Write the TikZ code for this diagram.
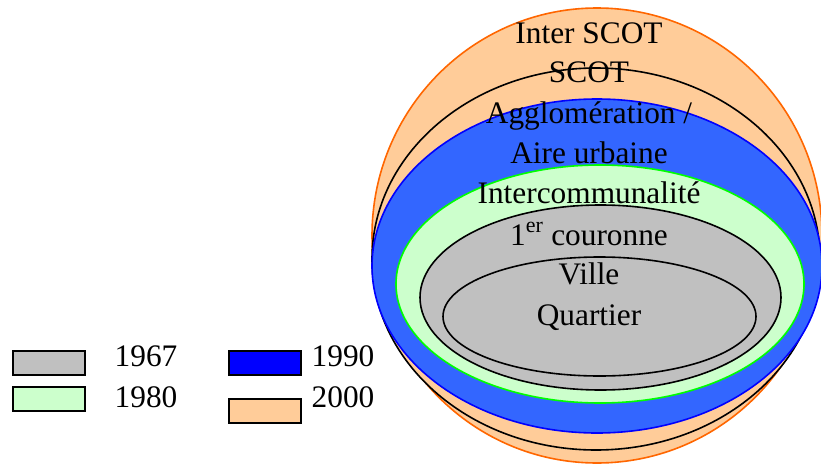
\documentclass[tikz,border=0pt]{standalone}
\usepackage{fontspec}
\setmainfont{Liberation Serif}
\definecolor{peach}{HTML}{FFCC99}
\definecolor{orangeline}{HTML}{FF6600}
\definecolor{bluefill}{HTML}{3366FF}
\definecolor{blueline}{HTML}{0000FF}
\definecolor{greenfill}{HTML}{CCFFCC}
\definecolor{greenline}{HTML}{00FF00}
\definecolor{grayfill}{HTML}{C0C0C0}
\tikzset{
  lbl/.style={anchor=base, inner sep=0pt, font=\fontsize{23.5}{28}\selectfont},
  legbox/.style={draw=black, line width=1.5pt, minimum width=72*0.75pt, minimum height=24*0.75pt, inner sep=0pt, anchor=north west},
  ring/.style={line width=1.2pt}
}
\begin{document}
\begin{tikzpicture}[x=0.75pt, y=-0.75pt]
\useasboundingbox (0,0) rectangle (821,464);
% ellipses
\draw[ring, fill=peach, draw=orangeline] (597,235.5) ellipse [x radius=225*0.75pt, y radius=227.5*0.75pt];
\draw[ring, fill=peach, draw=black] (596,259) ellipse [x radius=224*0.75pt, y radius=191*0.75pt];
\draw[ring, fill=bluefill, draw=blueline] (597,266) ellipse [x radius=225*0.75pt, y radius=167*0.75pt];
\draw[ring, fill=greenfill, draw=greenline] (600,284) ellipse [x radius=204*0.75pt, y radius=119*0.75pt];
\draw[ring, fill=grayfill, draw=black] (600.5,297.5) ellipse [x radius=180.5*0.75pt, y radius=92.5*0.75pt];
\draw[ring, fill=grayfill, draw=black] (599.5,316.5) ellipse [x radius=156.5*0.75pt, y radius=59.5*0.75pt];
% labels
\node[lbl] (t1) at (589,43) {Inter SCOT};
\node[lbl] (t2) at (589,82) {SCOT};
\node[lbl] (t3) at (589,123) {Agglomération /};
\node[lbl] (t4) at (589,163) {Aire urbaine};
\node[lbl] (t5) at (589,203) {Intercommunalité};
\node[lbl] (t6) at (589,245) {1\textsuperscript{er} couronne};
\node[lbl] (t7) at (589,284) {Ville};
\node[lbl] (t8) at (589,325) {Quartier};
% legend
\node[legbox, fill=grayfill] (b1) at (12,350) {};
\node[legbox, fill=greenfill] (b2) at (12,386) {};
\node[legbox, fill=blueline] (b3) at (228,350) {};
\node[legbox, fill=peach] (b4) at (228,398) {};
\node[lbl] (l1) at (146,366) {1967};
\node[lbl] (l2) at (146,407) {1980};
\node[lbl] (l3) at (343,366) {1990};
\node[lbl] (l4) at (343,407) {2000};
\end{tikzpicture}
\end{document}
